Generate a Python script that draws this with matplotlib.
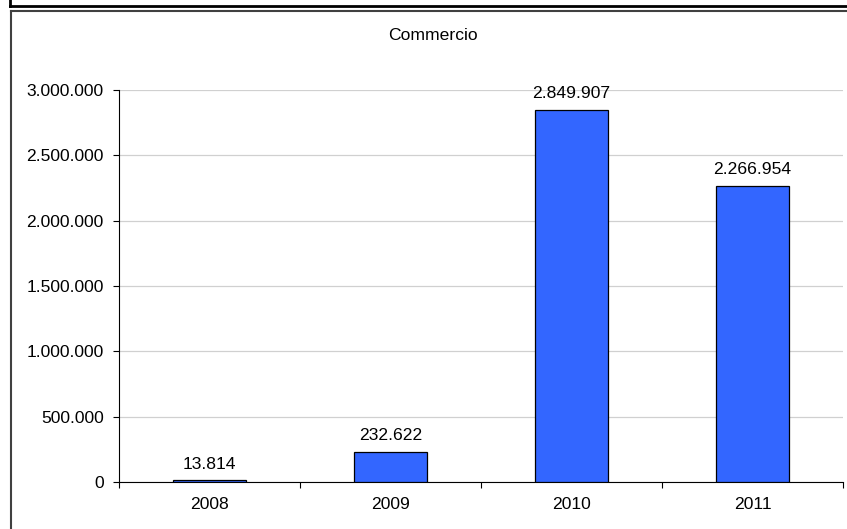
import matplotlib.pyplot as plt
from matplotlib.lines import Line2D
from matplotlib.ticker import FuncFormatter

plt.rcParams['font.family'] = ['Liberation Sans', 'DejaVu Sans']

years = ["2008", "2009", "2010", "2011"]
values = [13814, 232622, 2849907, 2266954]
y_ticks = [0, 500000, 1000000, 1500000, 2000000, 2500000, 3000000]

FS = 12.6


def fmt_it(v, pos=None):
    return f"{int(v):,}".replace(",", ".")


W, H = 847, 529
fig = plt.figure(figsize=(W / 100, H / 100), dpi=100)

# frames of the surrounding boxes
fig.add_artist(Line2D([9.5 / W, 9.5 / W], [1, 1 - 5.5 / H], color="black", lw=2))
fig.add_artist(Line2D([9.5 / W, 1], [1 - 5.5 / H, 1 - 5.5 / H], color="black", lw=2))
fig.add_artist(Line2D([10.5 / W, 1], [1 - 10.5 / H, 1 - 10.5 / H], color="#404040", lw=1.5))
fig.add_artist(Line2D([10.5 / W, 10.5 / W], [0, 1 - 10.5 / H], color="#404040", lw=1.5))

ax = fig.add_axes([119 / W, (H - 482) / H, (843 - 119) / W, (482 - 90) / H])

x = range(len(years))
ax.bar(x, values, width=0.4, color="#3366FF", edgecolor="black", linewidth=0.9, zorder=3)
for xi, v in zip(x, values):
    ax.annotate(fmt_it(v), (xi, v), xytext=(0, 6), textcoords="offset points",
                ha="center", va="bottom", fontsize=FS)

ax.set_xlim(-0.5, len(years) - 0.5)
ax.set_ylim(0, 3000000)
ax.set_yticks(y_ticks)
ax.yaxis.set_major_formatter(FuncFormatter(fmt_it))
ax.yaxis.grid(True, color="#D0D0D0", lw=0.9, zorder=0)

ax.set_xticks([i - 0.5 for i in range(len(years) + 1)])
ax.set_xticklabels([])
ax.set_xticks(list(x), minor=True)
ax.set_xticklabels(years, minor=True)
ax.tick_params(axis="x", which="major", direction="out", length=4, color="black")
ax.tick_params(axis="x", which="minor", length=0, labelsize=FS, pad=11)
ax.tick_params(axis="y", direction="out", length=4, labelsize=FS, pad=7)

for s in ["top", "right"]:
    ax.spines[s].set_visible(False)
ax.spines["left"].set_color("black")
ax.spines["bottom"].set_color("black")

fig.text(433 / W, 1 - 36 / H, "Commercio", ha="center", va="center", fontsize=FS)

fig.savefig("out.png", dpi=100)
